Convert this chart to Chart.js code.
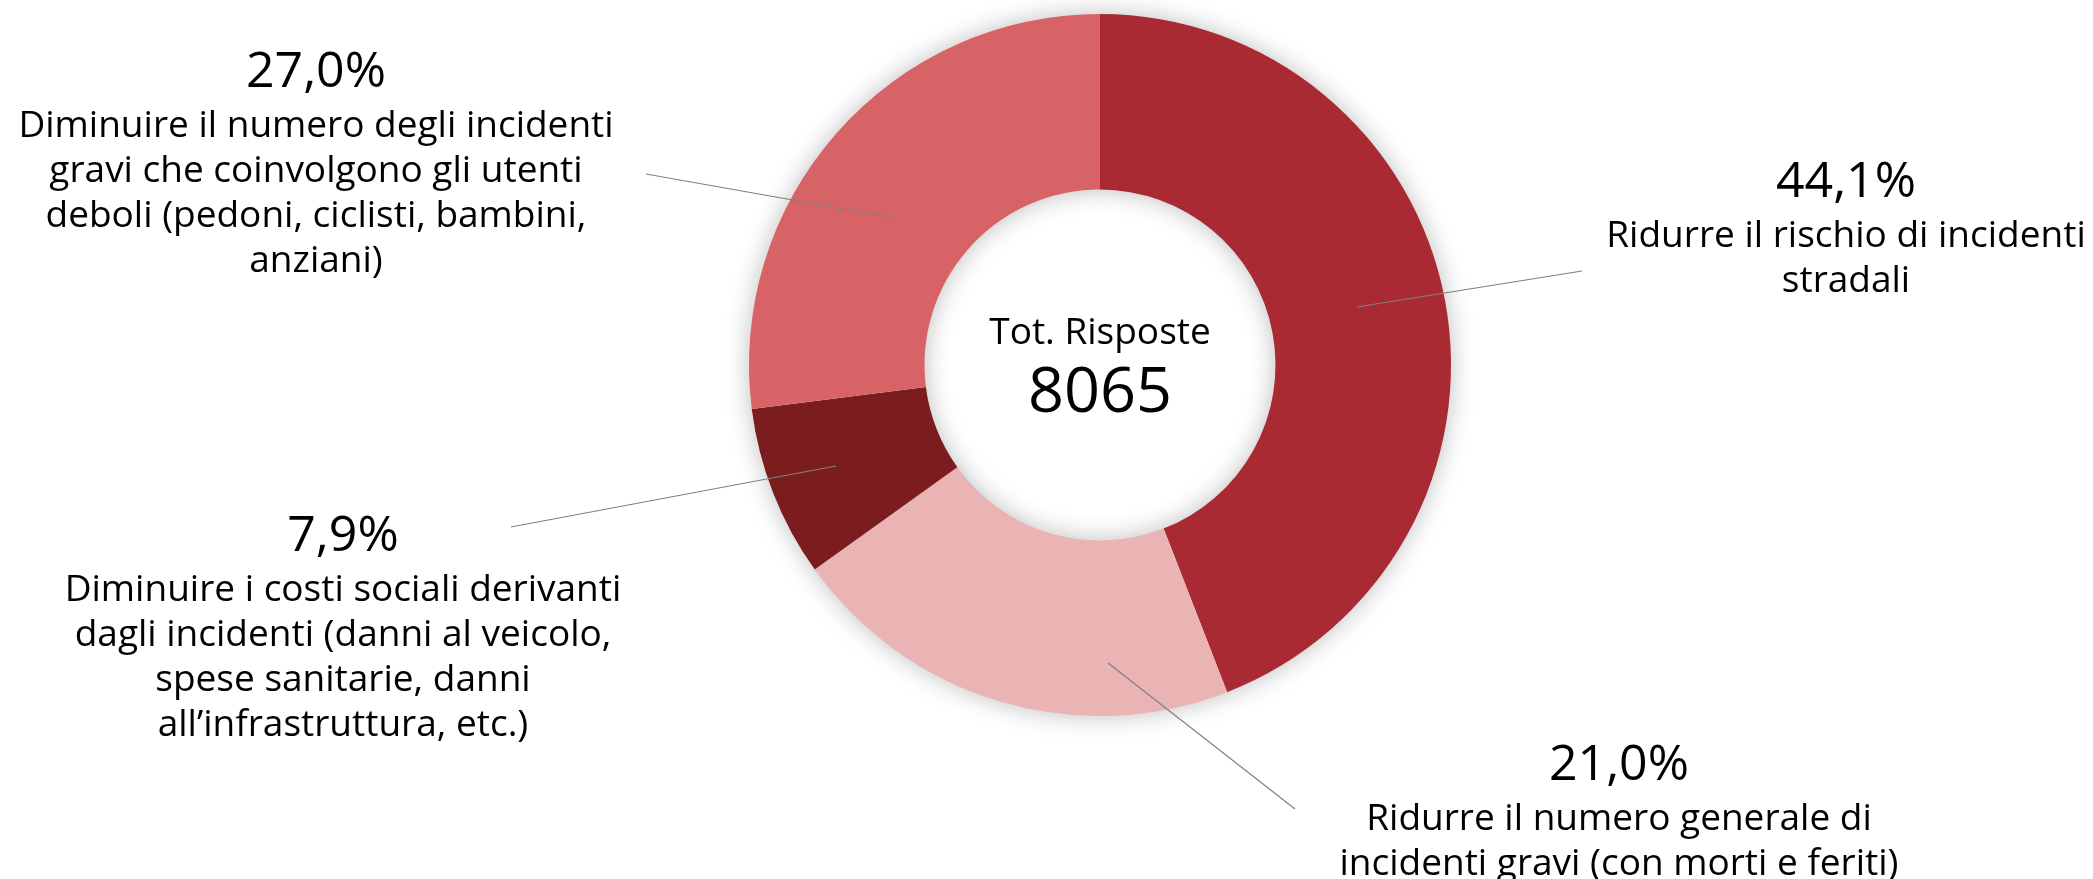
<!DOCTYPE html>
<html lang="it">
<head>
<meta charset="utf-8">
<title>Obiettivi - Tot. Risposte</title>
<script src="https://cdn.jsdelivr.net/npm/chart.js@4/dist/chart.umd.min.js"></script>
<style>
    html, body { margin: 0; padding: 0; background: #ffffff; }
    #wrap { width: 2093px; height: 879px; position: relative; }
</style>
</head>
<body>
<div id="wrap"><canvas id="chart_obiettivi"></canvas></div>
<script>
// Answers, clockwise from 12 o'clock
const categories = [
    'Ridurre il rischio di incidenti stradali',
    'Ridurre il numero generale di incidenti gravi (con morti e feriti)',
    'Diminuire i costi sociali derivanti dagli incidenti (danni al veicolo, spese sanitarie, danni all\u2019infrastruttura, etc.)',
    'Diminuire il numero degli incidenti gravi che coinvolgono gli utenti deboli (pedoni, ciclisti, bambini, anziani)'
];
const shares = [44.1, 21.0, 7.9, 27.0];
const totalAnswers = 8065;

// Wrapped label lines as they are printed next to each slice
const labelLines = [
    ['Ridurre il rischio di incidenti', 'stradali'],
    ['Ridurre il numero generale di', 'incidenti gravi (con morti e feriti)'],
    ['Diminuire i costi sociali derivanti', 'dagli incidenti (danni al veicolo,', 'spese sanitarie, danni', 'all\u2019infrastruttura, etc.)'],
    ['Diminuire il numero degli incidenti', 'gravi che coinvolgono gli utenti', 'deboli (pedoni, ciclisti, bambini,', 'anziani)']
];

const sliceColors = ['#a92a32', '#eab4b4', '#7b1d1f', '#d86366'];

// Label text anchor and leader line, in px from the doughnut centre
const labelLayout = [
    { text: [746, -182], from: [257, -58], to: [482, -94] },
    { text: [519, 401], from: [8, 298], to: [195, 444] },
    { text: [-757, 172], from: [-264, 101], to: [-589, 162] },
    { text: [-784, -292], from: [-206, -147], to: [-454, -191] }
];

const FONT = '"Open Sans", "Noto Sans", sans-serif';

function formatPct(v) {
    return v.toFixed(1).replace('.', ',') + '%';
}

// Soft shadow under the whole ring, drawn once so slice borders stay clean
const ringShadow = {
    id: 'ringShadow',
    beforeDatasetsDraw(chart) {
        const arc = chart.getDatasetMeta(0).data[0];
        if (!arc) return;
        const { x, y, innerRadius, outerRadius } = arc.getProps(['x', 'y', 'innerRadius', 'outerRadius'], true);
        const ctx = chart.ctx;
        ctx.save();
        ctx.shadowColor = 'rgba(0, 0, 0, 0.28)';
        ctx.shadowBlur = 26;
        ctx.fillStyle = '#ffffff';
        ctx.beginPath();
        ctx.arc(x, y, outerRadius - 1, 0, Math.PI * 2);
        ctx.arc(x, y, innerRadius + 1, Math.PI * 2, 0, true);
        ctx.closePath();
        ctx.fill();
        ctx.restore();
    }
};

// Centre total, leader lines and slice labels
const sliceLabels = {
    id: 'sliceLabels',
    afterDatasetsDraw(chart) {
        const meta = chart.getDatasetMeta(0);
        const cx = meta.data[0].x;
        const cy = meta.data[0].y;
        const ctx = chart.ctx;
        ctx.save();
        ctx.fillStyle = '#000000';
        ctx.textAlign = 'center';
        ctx.textBaseline = 'middle';

        ctx.font = '37px ' + FONT;
        ctx.fillText('Tot. Risposte', cx, cy - 32);
        ctx.font = '63px ' + FONT;
        ctx.fillText(String(totalAnswers), cx, cy + 29);

        shares.forEach((v, i) => {
            const lay = labelLayout[i];
            ctx.strokeStyle = '#808080';
            ctx.lineWidth = 1.2;
            ctx.beginPath();
            ctx.moveTo(cx + lay.from[0], cy + lay.from[1]);
            ctx.lineTo(cx + lay.to[0], cy + lay.to[1]);
            ctx.stroke();

            const tx = cx + lay.text[0];
            const ty = cy + lay.text[1];
            ctx.font = '50px ' + FONT;
            ctx.fillText(formatPct(v), tx, ty);
            ctx.font = '37px ' + FONT;
            labelLines[i].forEach((line, j) => {
                ctx.fillText(line, tx, ty + 53 + j * 45);
            });
        });
        ctx.restore();
    }
};

const ctx = document.getElementById('chart_obiettivi').getContext('2d');
const chart = new Chart(ctx, {
    type: 'doughnut',
    data: {
        labels: categories,
        datasets: [{
            data: shares,
            backgroundColor: sliceColors,
            borderWidth: 0,
            hoverOffset: 0
        }]
    },
    options: {
        responsive: true,
        maintainAspectRatio: false,
        animation: false,
        cutout: '50%',
        layout: {
            padding: { top: 14, bottom: 163, left: 107, right: 0 }
        },
        plugins: {
            legend: { display: false },
            tooltip: { enabled: false }
        }
    },
    plugins: [ringShadow, sliceLabels]
});
</script>
</body>
</html>
